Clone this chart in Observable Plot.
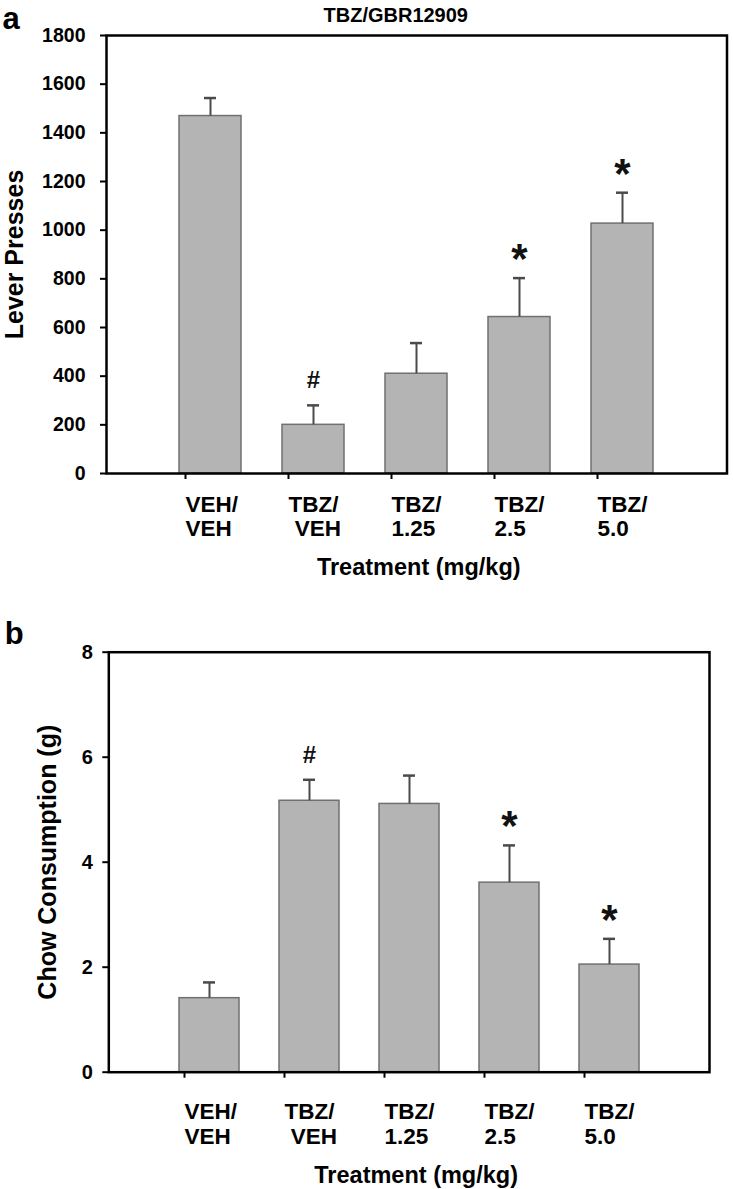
<!DOCTYPE html>
<html><head><meta charset="utf-8">
<script src="https://cdn.jsdelivr.net/npm/d3@7"></script>
<script src="https://cdn.jsdelivr.net/npm/@observablehq/plot@0.6"></script>
<style>
body{margin:0;background:#fff;}
#chart{width:733px;}
#chart svg{display:block;}
</style></head><body><div id="chart"></div>
<script>
// ---- data ----
const categories = ["VEH/VEH", "TBZ/VEH", "TBZ/1.25", "TBZ/2.5", "TBZ/5.0"];
const tickLabels = ["VEH/\nVEH", "TBZ/\n\u00a0VEH", "TBZ/\n1.25", "TBZ/\n2.5", "TBZ/\n5.0"];
const leverMean = [1469, 200, 410, 643, 1027];
const leverSem = [74, 80, 126, 160, 127];
const leverMarks = ["", "#", "", "*", "*"];
const leverTicks = [0, 200, 400, 600, 800, 1000, 1200, 1400, 1600, 1800];
const chowMean = [1.41, 5.17, 5.11, 3.61, 2.05];
const chowSem = [0.30, 0.40, 0.54, 0.71, 0.49];
const chowMarks = ["", "#", "", "*", "*"];
const chowTicks = [0, 2, 4, 6, 8];

const FONT = "'Liberation Sans', Arial, Helvetica, sans-serif";
const labelOf = new Map(categories.map((c, i) => [c, tickLabels[i]]));

function panel(o) {
  const data = categories.map((c, i) => ({cat: c, mean: o.mean[i], top: o.mean[i] + o.sem[i], mark: o.marks[i]}));
  return Plot.plot({
    width: 733,
    height: o.height,
    marginTop: o.mt, marginBottom: o.mb, marginLeft: o.ml, marginRight: o.mr,
    style: {fontFamily: FONT, background: "white", color: "black", overflow: "visible"},
    x: {type: "band", domain: categories, paddingInner: 0.4, paddingOuter: 0.7, axis: null},
    y: {domain: o.ydomain, axis: null},
    marks: [
      Plot.axisY({ticks: o.yticks, tickFormat: d => String(d), tickSize: 6, tickPadding: o.ytp, fontSize: o.yfs, fontWeight: "bold", label: null, strokeWidth: 2}),
      Plot.axisX({tickSize: 6, tickPadding: o.xtp, tickFormat: d => labelOf.get(d), textAnchor: "start", dx: -25,
        fontSize: 22.5, fontWeight: "bold", lineHeight: 1.08, label: null, strokeWidth: 2}),
      Plot.barY(data, {x: "cat", y: "mean", fill: "#b4b4b4", stroke: "#707070", strokeWidth: 1.5}),
      Plot.ruleX(data, {x: "cat", y1: "mean", y2: "top", stroke: "#4a4a4a", strokeWidth: 2}),
      Plot.tickY(data, {x: "cat", y: "top", stroke: "#4a4a4a", strokeWidth: 2.5, insetLeft: o.capInset, insetRight: o.capInset}),
      Plot.text(data.filter(d => d.mark === "#"), {x: "cat", y: "top", text: "mark", fontSize: 24, fontWeight: "bold", fontFamily: FONT, lineAnchor: "bottom", dy: -17, fill: "#111"}),
      Plot.text(data.filter(d => d.mark === "*"), {x: "cat", y: "top", text: "mark", fontSize: 42, fontWeight: "bold", fontFamily: FONT, lineAnchor: "bottom", dy: -5, fill: "#111"}),
      Plot.frame({stroke: "black", strokeWidth: 2.5}),
      Plot.text([o.ylabel], {frameAnchor: "left", text: d => d, rotate: -90, textAnchor: "middle", lineAnchor: "bottom", dx: o.ylx, fontSize: 25, fontWeight: "bold"}),
      Plot.text(["Treatment (mg/kg)"], {frameAnchor: "bottom", text: d => d, lineAnchor: "bottom", dy: o.xtdy, dx: o.xtdx, fontSize: 23.5, fontWeight: "bold"}),
      Plot.text([o.letter], {frameAnchor: "top-left", text: d => d, textAnchor: "start", lineAnchor: "bottom", dx: o.ldx, dy: o.ldy, fontSize: 31, fontWeight: "bold"}),
      ...(o.title ? [Plot.text([o.title], {frameAnchor: "top", text: d => d, lineAnchor: "bottom", dx: -21, dy: -14, fontSize: 20, fontWeight: "bold"})] : [])
    ]
  });
}

const chart = document.getElementById("chart");
chart.append(panel({
  mean: leverMean, sem: leverSem, marks: leverMarks, yticks: leverTicks, ydomain: [0, 1800],
  height: 590, mt: 35, mb: 117, ml: 106, mr: 6.5, ytp: 15, yfs: 19.5, xtp: 15, capInset: 25,
  ylabel: "Lever Presses", ylx: -84, xtdy: 101, xtdx: 2, letter: "a", ldx: -104, ldy: -7, title: "TBZ/GBR12909"
}));
chart.append(panel({
  mean: chowMean, sem: chowSem, marks: chowMarks, yticks: chowTicks, ydomain: [0, 8],
  height: 599, mt: 61.7, mb: 117.3, ml: 108.3, mr: 24, ytp: 10, yfs: 20, xtp: 24, capInset: 24,
  ylabel: "Chow Consumption (g)", ylx: -53, xtdy: 111, xtdx: 7, letter: "b", ldx: -104, ldy: -8.7, title: null
}));
</script>
</body></html>
